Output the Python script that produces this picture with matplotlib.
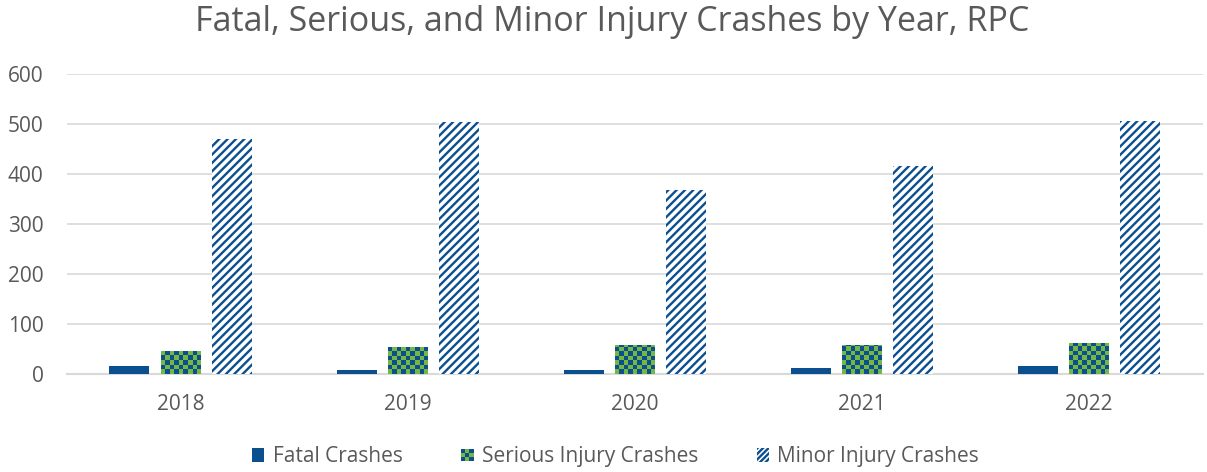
import numpy as np
import matplotlib
matplotlib.use("Agg")
import matplotlib.pyplot as plt
from matplotlib.patches import Rectangle
from matplotlib.legend_handler import HandlerBase

years = ["2018", "2019", "2020", "2021", "2022"]
fatal = [16, 8, 8, 13, 16]
serious = [46, 55, 59, 58, 62]
minor = [470, 504, 369, 417, 507]
series_names = ["Fatal Crashes", "Serious Injury Crashes", "Minor Injury Crashes"]

blue = "#0B4F8F"
green = "#74B843"
grey_text = "#595959"
grid_grey = "#D9D9D9"

plt.rcParams["font.family"] = ["Open Sans", "DejaVu Sans"]
plt.rcParams["hatch.linewidth"] = 1.7

fig = plt.figure(figsize=(12.07, 4.72), dpi=100)
ax = fig.add_axes([0.0555, 0.207, 0.941, 0.6356])

x = np.arange(len(years))
width = 0.176
step = 0.225

b1 = ax.bar(x - step, fatal, width, color=blue, linewidth=0, zorder=3)
b2 = ax.bar(x, serious, width, color=green, linewidth=0, zorder=3)
b3 = ax.bar(x + step, minor, width, facecolor="white", edgecolor=blue,
            hatch="////", linewidth=0, zorder=3)

ax.set_xlim(-0.5, len(years) - 0.5)
ax.set_ylim(0, 600)

# checkerboard fill for the serious bars
cell_px = 4.5
fig.canvas.draw()
px_per_x = ax.transData.transform((1, 0))[0] - ax.transData.transform((0, 0))[0]
px_per_y = ax.transData.transform((0, 1))[1] - ax.transData.transform((0, 0))[1]
for rect in b2:
    x0 = rect.get_x()
    w = rect.get_width()
    h = rect.get_height()
    nx = int(np.ceil(w * px_per_x / cell_px))
    ny = int(np.ceil(h * px_per_y / cell_px))
    chk = (np.add.outer(np.arange(ny), np.arange(nx)) % 2).astype(float)
    img = np.zeros((ny, nx, 3))
    img[chk == 1] = matplotlib.colors.to_rgb(blue)
    img[chk == 0] = matplotlib.colors.to_rgb(green)
    top = ny * cell_px / px_per_y
    im = ax.imshow(img, extent=(x0, x0 + nx * cell_px / px_per_x, 0, top),
                   origin="lower", interpolation="nearest", aspect="auto",
                   zorder=4)
    im.set_clip_path(rect)

ax.set_xlim(-0.5, len(years) - 0.5)
ax.set_ylim(0, 600)

ax.set_xticks(x)
ax.set_xticklabels(years)
ax.set_yticks(range(0, 700, 100))
ax.tick_params(axis="both", length=0, labelsize=15, colors=grey_text)
ax.tick_params(axis="y", pad=17)
ax.tick_params(axis="x", pad=14)
ax.grid(axis="y", color=grid_grey, linewidth=1.2, zorder=0)
for s in ["top", "right", "left"]:
    ax.spines[s].set_visible(False)
ax.spines["bottom"].set_color(grid_grey)
ax.spines["bottom"].set_linewidth(1.5)

fig.suptitle("Fatal, Serious, and Minor Injury Crashes by Year, RPC",
             fontsize=24.5, color=grey_text, x=0.507, y=0.99)


class CheckerHandler(HandlerBase):
    def create_artists(self, legend, orig_handle, xdescent, ydescent,
                       width, height, fontsize, trans):
        n = 3
        side = min(width, height)
        x0 = xdescent + (width - side) / 2
        y0 = -ydescent + (height - side) / 2
        c = side / n
        arts = [Rectangle((x0, y0), side, side, facecolor=green,
                          linewidth=0, transform=trans)]
        for i in range(n):
            for j in range(n):
                if (i + j) % 2 == 0:
                    arts.append(Rectangle((x0 + i * c, y0 + j * c), c, c,
                                          facecolor=blue, linewidth=0,
                                          transform=trans))
        return arts


h1 = Rectangle((0, 0), 1, 1, facecolor=blue, linewidth=0)
h2 = Rectangle((0, 0), 1, 1, facecolor=green, linewidth=0)
h3 = Rectangle((0, 0), 1, 1, facecolor="white", edgecolor=blue, hatch="//////",
               linewidth=0)
leg = fig.legend([h1, h2, h3], series_names, loc="center",
                 bbox_to_anchor=(0.51, 0.032), ncol=3, frameon=False,
                 fontsize=15, handlelength=0.6, handleheight=0.6,
                 handletextpad=0.4, columnspacing=2.8,
                 handler_map={h2: CheckerHandler()})
for t in leg.get_texts():
    t.set_color(grey_text)

fig.savefig("out.png", dpi=100)
